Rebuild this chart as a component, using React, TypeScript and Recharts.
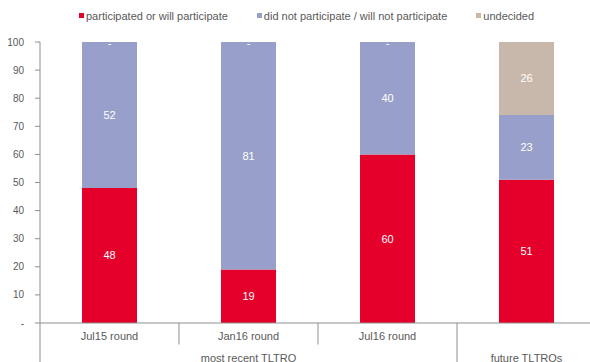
import React from "react";
import { BarChart, Bar, XAxis, YAxis, LabelList } from "recharts";

const categories = ["Jul15 round", "Jan16 round", "Jul16 round", ""];
const groups = ["most recent TLTRO", "most recent TLTRO", "most recent TLTRO", "future TLTROs"];
const participated = [48, 19, 60, 51];
const notParticipated = [52, 81, 40, 23];
const undecided = [0, 0, 0, 26];
const yTicks = [0, 10, 20, 30, 40, 50, 60, 70, 80, 90, 100];

const seriesNames = [
  "participated or will participate",
  "did not participate / will not participate",
  "undecided",
];
const seriesColors = ["#E4002B", "#989FCA", "#C8B8AB"];
const seriesKeys = ["p", "n", "u"];

const data = categories.map((c, i) => ({
  cat: String(i),
  label: c,
  group: groups[i],
  p: participated[i],
  n: notParticipated[i],
  u: undecided[i],
}));

const FONT = "'Liberation Sans', Arial, sans-serif";
const TEXT = "#595959";
const AXIS = "#8f8f8f";

const XTick = (props: any) => {
  const { x, y, payload, index } = props;
  const idx = typeof index === "number" ? index : Number(payload.value);
  const half = payload && payload.offset ? payload.offset : 69.5;
  const d = data[idx];
  const left = x - half;
  const isGroupStart = idx === 0 || groups[idx] !== groups[idx - 1];
  let groupLabel = null;
  const gIdx = groups.map((g, i) => (g === d.group ? i : -1)).filter((i) => i >= 0);
  const mid = (gIdx[0] + gIdx[gIdx.length - 1]) / 2;
  if (Math.abs(mid - idx) < 0.01) {
    groupLabel = (
      <text x={x} y={y + 38.5} textAnchor="middle" fill={TEXT} fontSize={11} fontFamily={FONT}>
        {d.group}
      </text>
    );
  }
  return (
    <g>
      <text x={x} y={y + 17} textAnchor="middle" fill={TEXT} fontSize={11} fontFamily={FONT}>
        {d.label}
      </text>
      <line
        x1={left}
        x2={left}
        y1={y}
        y2={isGroupStart ? y + 40 : y + 21.5}
        stroke={AXIS}
        strokeWidth={1}
      />
      {groupLabel}
    </g>
  );
};

const fmtLabel = (v: any) => (Number(v) === 0 ? "-" : String(v));

// Label for the "did not participate" segment; also draws the "-" label of a
// zero-height "undecided" segment at the top of the stack.
const NLabel = (props: any) => {
  const { x, y, width, height, value, index } = props;
  const cx = x + width / 2;
  const zeroTop = undecided[index] === 0;
  return (
    <g>
      <text
        x={cx}
        y={y + height / 2}
        textAnchor="middle"
        dominantBaseline="central"
        fill="#ffffff"
        fontSize={11}
        fontFamily={FONT}
      >
        {fmtLabel(value)}
      </text>
      {zeroTop ? (
        <text
          x={cx}
          y={y + 1}
          textAnchor="middle"
          dominantBaseline="central"
          fill="#ffffff"
          fontSize={11}
          fontFamily={FONT}
        >
          -
        </text>
      ) : null}
    </g>
  );
};

export default function App() {
  return (
    <div
      style={{
        position: "absolute",
        left: 0,
        top: 0,
        width: 590,
        height: 362,
        overflow: "hidden",
        background: "#fff",
      }}
    >
      <div
        style={{
          position: "absolute",
          top: 9,
          left: 79,
          height: 13,
          display: "flex",
          alignItems: "center",
          whiteSpace: "nowrap",
          fontFamily: FONT,
          fontSize: 11,
          color: TEXT,
        }}
      >
        {seriesNames.map((name, i) => (
          <div key={name} style={{ display: "flex", alignItems: "center", marginRight: 29 }}>
            <span
              style={{
                display: "inline-block",
                width: 5,
                height: 5,
                background: seriesColors[i],
                marginRight: 2,
              }}
            />
            <span>{name}</span>
          </div>
        ))}
      </div>
      <BarChart
        width={600}
        height={362}
        data={data}
        margin={{ top: 42, right: 4, bottom: 0, left: 0 }}
      >
        <XAxis
          dataKey="cat"
          height={39}
          interval={0}
          tickLine={false}
          tickSize={0}
          tickMargin={0}
          axisLine={{ stroke: AXIS, strokeWidth: 1 }}
          tick={<XTick />}
        />
        <YAxis
          width={40}
          domain={[0, 100]}
          ticks={yTicks}
          interval={0}
          tickSize={5}
          tickMargin={11}
          axisLine={{ stroke: AXIS, strokeWidth: 1 }}
          tickLine={{ stroke: AXIS, strokeWidth: 1 }}
          tickFormatter={(v: number) => (v === 0 ? "-" : String(v))}
          tick={{ fill: TEXT, fontSize: 10, fontFamily: FONT }}
        />
        <Bar dataKey="p" name={seriesNames[0]} stackId="a" fill={seriesColors[0]} barSize={55} isAnimationActive={false}>
          <LabelList dataKey="p" position="center" formatter={fmtLabel} fill="#ffffff" fontSize={11} fontFamily={FONT} />
        </Bar>
        <Bar dataKey="n" name={seriesNames[1]} stackId="a" fill={seriesColors[1]} barSize={55} isAnimationActive={false}>
          <LabelList dataKey="n" content={<NLabel />} />
        </Bar>
        <Bar dataKey="u" name={seriesNames[2]} stackId="a" fill={seriesColors[2]} barSize={55} isAnimationActive={false}>
          <LabelList dataKey="u" position="center" formatter={fmtLabel} fill="#ffffff" fontSize={11} fontFamily={FONT} />
        </Bar>
      </BarChart>
    </div>
  );
}
